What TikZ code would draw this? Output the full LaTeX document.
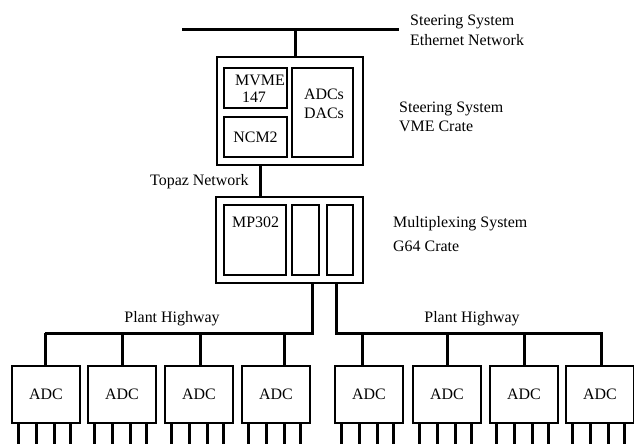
\documentclass[tikz,border=0pt]{standalone}
\usepackage{fontspec}
\setmainfont{Liberation Serif}
\begin{document}
\begin{tikzpicture}[x=1bp,y=-1bp,
  bus/.style={line width=3bp},
  wire/.style={line width=3bp},
  box/.style={draw,line width=1.5bp,rectangle,inner sep=0pt},
  txt/.style={font=\fontsize{16}{19}\selectfont,inner sep=0pt},
  lbl/.style={txt,anchor=base west},
  adc/.style={box,txt,minimum width=68bp,minimum height=57bp},
]
\useasboundingbox (0,0) rectangle (634,444);
% Ethernet
\coordinate (e1) at (182,30);
\coordinate (e2) at (399,30);
\draw[bus] (e1) -- (e2);
\node[lbl] (t1) at (410,26) {Steering System};
\node[lbl] (t2) at (410,46) {Ethernet Network};
% VME crate
\node[box,minimum width=146bp,minimum height=108bp] (vme) at (290,111) {};
\node[box,minimum width=63bp,minimum height=40bp] (mvme) at (255.5,88) {};
\node[txt,anchor=base west] (mvt) at (235,86) {MVME};
\node[txt,anchor=base] (n147) at (254,103) {147};
\node[box,txt,minimum width=63bp,minimum height=40bp] (ncm) at (255.5,137) {NCM2};
\node[box,minimum width=61bp,minimum height=89bp] (adcs) at (322.5,112.5) {};
\node[txt,anchor=base] (adct) at (324,100) {ADCs};
\node[txt,anchor=base] (dact) at (324,119) {DACs};
\draw[bus] (vme.north -| 295,0) coordinate (v0) -- (v0 |- e1);
\node[lbl] (t3) at (399,113) {Steering System};
\node[lbl] (t4) at (399,132) {VME Crate};
% G64 crate
\node[box,minimum width=147bp,minimum height=86bp] (g64) at (289.5,240) {};
\draw[bus] (vme.south -| 260,0) -- (g64.north -| 260,0);
\node[lbl] (t5) at (150,186) {Topaz Network};
\node[box,minimum width=62bp,minimum height=70bp] (mp) at (255,240) {};
\node[txt,anchor=base west] (mpt) at (232,228) {MP302};
\node[box,minimum width=27bp,minimum height=70bp] (s1) at (305.5,240) {};
\node[box,minimum width=26bp,minimum height=70bp] (s2) at (340,240) {};
\node[lbl] (t6) at (393,228) {Multiplexing System};
\node[lbl] (t7) at (393,252) {G64 Crate};
% Plant highways
\coordinate (lh) at (312,333);
\coordinate (rh) at (336,333);
\draw[bus] (g64.south -| lh) -- (lh) -- (45,333) coordinate (lend);
\draw[bus] (g64.south -| rh) -- (rh) -- (603,333) coordinate (rend);
\node[txt,anchor=base] (ph1) at (172,322) {Plant Highway};
\node[txt,anchor=base] (ph2) at (472,322) {Plant Highway};
% ADC boxes
\foreach \i/\xl/\xd in {1/12/45,2/88/122,3/165/200,4/242/284,5/335/362,6/413/447,7/490/524,8/566/601}{
  \node[adc] (a\i) at (\xl+34,394.5) {ADC};
  \draw[wire] (a\i.north -| \xd,0) -- (\xd,333);
  \foreach \p in {7,25,43,59}{
    \draw[wire] (a\i.south west) ++(\p,0) coordinate (p\i\p) -- ++(0,22);
  }
}
\end{tikzpicture}
\end{document}
